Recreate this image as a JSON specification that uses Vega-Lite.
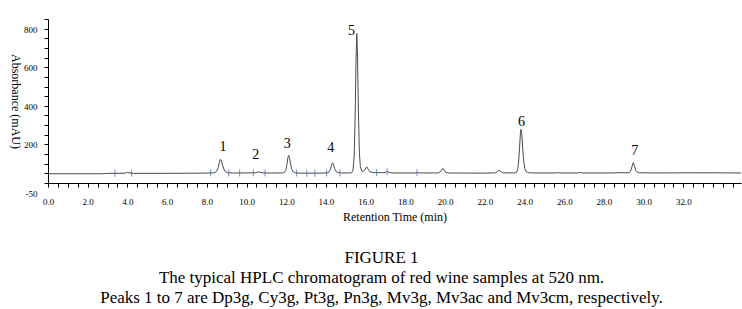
{
  "$schema": "https://vega.github.io/schema/vega-lite/v6.json",
  "width": 693,
  "height": 164,
  "autosize": {"type": "none"},
  "padding": {"left": 48, "top": 19, "right": 1, "bottom": 126},
  "background": "white",
  "config": {"font": "Liberation Serif", "view": {"stroke": null}, "axis": {"labelOverlap": false, "labelBound": false, "labelFlush": false}},
  "title": {
    "text": ["FIGURE 1", "The typical HPLC chromatogram of red wine samples at 520 nm.", "Peaks 1 to 7 are Dp3g, Cy3g, Pt3g, Pn3g, Mv3g, Mv3ac and Mv3cm, respectively."],
    "orient": "bottom",
    "anchor": "middle",
    "frame": "group",
    "dx": -13,
    "offset": 28,
    "fontSize": 17,
    "fontWeight": "normal",
    "font": "Liberation Serif",
    "lineHeight": 20,
    "color": "black"
  },
  "datasets": {
    "trace": [
      {"t": 0, "v": -2}, {"t": 2.8, "v": -2}, {"t": 3.0, "v": 0}, {"t": 3.37, "v": 0},
      {"t": 3.9, "v": 1}, {"t": 4.0, "v": 5}, {"t": 4.1, "v": 2}, {"t": 4.3, "v": 0},
      {"t": 6.0, "v": 0}, {"t": 7.5, "v": 1}, {"t": 8.3, "v": 2}, {"t": 8.4, "v": 4},
      {"t": 8.5, "v": 12}, {"t": 8.57, "v": 30}, {"t": 8.63, "v": 58}, {"t": 8.68, "v": 73},
      {"t": 8.73, "v": 66}, {"t": 8.8, "v": 40}, {"t": 8.87, "v": 18}, {"t": 8.95, "v": 7},
      {"t": 9.05, "v": 3}, {"t": 9.3, "v": 2}, {"t": 10.0, "v": 2}, {"t": 10.45, "v": 3},
      {"t": 10.55, "v": 6}, {"t": 10.62, "v": 7}, {"t": 10.7, "v": 5}, {"t": 10.85, "v": 2},
      {"t": 11.8, "v": 2}, {"t": 11.9, "v": 5}, {"t": 11.97, "v": 15}, {"t": 12.03, "v": 45},
      {"t": 12.08, "v": 80}, {"t": 12.12, "v": 93}, {"t": 12.16, "v": 82}, {"t": 12.22, "v": 48},
      {"t": 12.28, "v": 20}, {"t": 12.36, "v": 7}, {"t": 12.45, "v": 3}, {"t": 12.7, "v": 1},
      {"t": 13.5, "v": 1}, {"t": 14.05, "v": 2}, {"t": 14.15, "v": 6}, {"t": 14.22, "v": 20},
      {"t": 14.28, "v": 42}, {"t": 14.33, "v": 55}, {"t": 14.38, "v": 46}, {"t": 14.44, "v": 24},
      {"t": 14.52, "v": 9}, {"t": 14.6, "v": 4}, {"t": 14.8, "v": 2}, {"t": 15.2, "v": 2},
      {"t": 15.3, "v": 4}, {"t": 15.36, "v": 15}, {"t": 15.42, "v": 90}, {"t": 15.47, "v": 300},
      {"t": 15.51, "v": 580}, {"t": 15.55, "v": 725}, {"t": 15.59, "v": 600}, {"t": 15.63, "v": 330},
      {"t": 15.68, "v": 110}, {"t": 15.73, "v": 35}, {"t": 15.8, "v": 12}, {"t": 15.88, "v": 10},
      {"t": 15.95, "v": 16}, {"t": 16.02, "v": 30}, {"t": 16.07, "v": 32}, {"t": 16.13, "v": 20},
      {"t": 16.22, "v": 8}, {"t": 16.4, "v": 4}, {"t": 16.9, "v": 3}, {"t": 17.02, "v": 6},
      {"t": 17.1, "v": 10}, {"t": 17.18, "v": 5}, {"t": 17.35, "v": 2}, {"t": 18.5, "v": 2},
      {"t": 18.58, "v": 4}, {"t": 18.66, "v": 2}, {"t": 19.65, "v": 2}, {"t": 19.75, "v": 8},
      {"t": 19.82, "v": 18}, {"t": 19.88, "v": 26}, {"t": 19.94, "v": 17}, {"t": 20.02, "v": 6},
      {"t": 20.15, "v": 2}, {"t": 22.0, "v": 1}, {"t": 22.55, "v": 3}, {"t": 22.65, "v": 11},
      {"t": 22.72, "v": 16}, {"t": 22.8, "v": 10}, {"t": 22.9, "v": 3}, {"t": 23.5, "v": 2},
      {"t": 23.6, "v": 6}, {"t": 23.66, "v": 25}, {"t": 23.71, "v": 70}, {"t": 23.75, "v": 140},
      {"t": 23.79, "v": 205}, {"t": 23.82, "v": 228}, {"t": 23.86, "v": 205}, {"t": 23.9, "v": 140},
      {"t": 23.95, "v": 70}, {"t": 24.01, "v": 25}, {"t": 24.08, "v": 9}, {"t": 24.18, "v": 4},
      {"t": 24.4, "v": 2}, {"t": 25.55, "v": 2}, {"t": 25.65, "v": 4}, {"t": 25.75, "v": 2},
      {"t": 26.7, "v": 2}, {"t": 26.8, "v": 5}, {"t": 26.9, "v": 2}, {"t": 28.55, "v": 2},
      {"t": 28.67, "v": 4}, {"t": 28.75, "v": 3}, {"t": 29.25, "v": 3}, {"t": 29.33, "v": 9},
      {"t": 29.4, "v": 32}, {"t": 29.47, "v": 55}, {"t": 29.53, "v": 40}, {"t": 29.6, "v": 15},
      {"t": 29.68, "v": 6}, {"t": 29.8, "v": 3}, {"t": 30.5, "v": 2}, {"t": 33.0, "v": 3},
      {"t": 34.9, "v": 2}
    ],
    "marks": [
      {"t": 3.37, "v": 0}, {"t": 4.21, "v": 0}, {"t": 8.19, "v": 2}, {"t": 9.1, "v": 2},
      {"t": 9.65, "v": 2}, {"t": 10.34, "v": 2}, {"t": 10.93, "v": 2}, {"t": 12.52, "v": 2},
      {"t": 13.03, "v": 1}, {"t": 13.44, "v": 1}, {"t": 14.03, "v": 2}, {"t": 14.7, "v": 2},
      {"t": 16.55, "v": 4}, {"t": 17.08, "v": 8}, {"t": 18.58, "v": 4}
    ],
    "labels": [
      {"t": 8.81, "v": 135, "label": "1"}, {"t": 10.46, "v": 95, "label": "2"},
      {"t": 12.05, "v": 152, "label": "3"}, {"t": 14.24, "v": 133, "label": "4"},
      {"t": 15.29, "v": 739, "label": "5"}, {"t": 23.85, "v": 268, "label": "6"},
      {"t": 29.55, "v": 117, "label": "7"}
    ]
  },
  "layer": [
    {
      "data": {"name": "trace"},
      "mark": {"type": "line", "color": "#4a4a4a", "strokeWidth": 1, "clip": true},
      "encoding": {
        "x": {
          "field": "t", "type": "quantitative",
          "scale": {"domain": [0, 34.9], "nice": false, "zero": false},
          "axis": {
            "title": "Retention Time (min)",
            "values": [0,0.5,1,1.5,2,2.5,3,3.5,4,4.5,5,5.5,6,6.5,7,7.5,8,8.5,9,9.5,10,10.5,11,11.5,12,12.5,13,13.5,14,14.5,15,15.5,16,16.5,17,17.5,18,18.5,19,19.5,20,20.5,21,21.5,22,22.5,23,23.5,24,24.5,25,25.5,26,26.5,27,27.5,28,28.5,29,29.5,30,30.5,31,31.5,32,32.5,33,33.5,34,34.5],
            "tickCount": 200,
            "labelExpr": "(datum.value % 2 == 0 && datum.value <= 32) ? format(datum.value, '.1f') : ''",
            "labelOverlap": false,
            "labelFontSize": 9,
            "labelColor": "black",
            "labelPadding": 10,
            "tickSize": 4,
            "tickColor": "black",
            "domainColor": "black",
            "grid": false,
            "titleFontSize": 12,
            "titleFontWeight": "normal",
            "titleColor": "black",
            "titlePadding": 5
          }
        },
        "y": {
          "field": "v", "type": "quantitative",
          "scale": {"domain": [-50, 800], "nice": false, "zero": false},
          "axis": {
            "title": "Absorbance (mAU)",
            "values": [-50,0,50,100,150,200,250,300,350,400,450,500,550,600,650,700,750,800],
            "tickCount": 200,
            "labelExpr": "datum.value == -50 ? '-50' : (datum.value == 200 ? '200' : (datum.value == 400 ? '400' : (datum.value == 600 ? '600' : (datum.value == 800 ? '800' : ''))))",
            "labelOverlap": false,
            "labelFontSize": 9,
            "labelColor": "black",
            "labelBaseline": "middle",
            "labelOffset": 10,
            "labelPadding": 7,
            "tickSize": 4,
            "tickColor": "black",
            "domainColor": "black",
            "grid": false,
            "titleAngle": 90,
            "titleBaseline": "top",
            "titleFontSize": 12,
            "titleFontWeight": "normal",
            "titleColor": "black",
            "titlePadding": 3
          }
        }
      }
    },
    {
      "data": {"name": "marks"},
      "mark": {"type": "tick", "orient": "vertical", "color": "#4060b0", "size": 7, "thickness": 1},
      "encoding": {
        "x": {"field": "t", "type": "quantitative"},
        "y": {"field": "v", "type": "quantitative"}
      }
    },
    {
      "data": {"name": "labels"},
      "mark": {"type": "text", "fontSize": 14, "font": "Liberation Serif", "color": "black", "baseline": "middle", "align": "center"},
      "encoding": {
        "x": {"field": "t", "type": "quantitative"},
        "y": {"field": "v", "type": "quantitative"},
        "text": {"field": "label"}
      }
    }
  ]
}
